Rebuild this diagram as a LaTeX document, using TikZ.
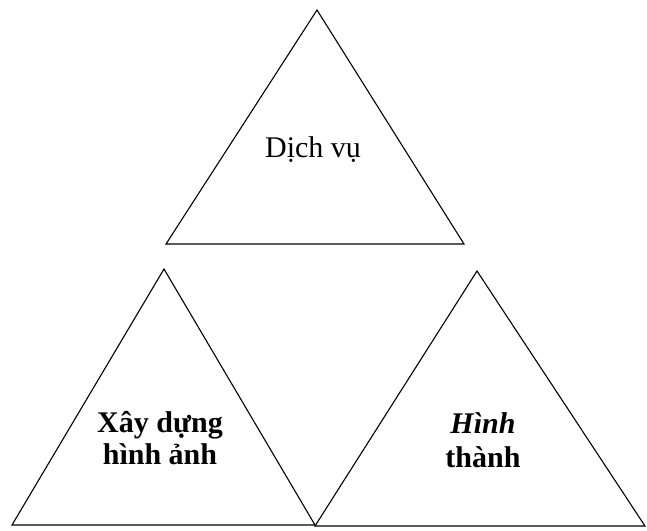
\documentclass[tikz,border=0pt]{standalone}
\usepackage{fontspec}
\setmainfont{Liberation Serif}
\usetikzlibrary{calc}
\tikzset{
  tri/.style={draw, line width=1.1pt, line join=miter},
  lbl/.style={align=center, font=\fontsize{30}{33}\selectfont, inner sep=0pt},
}

\begin{document}
\begin{tikzpicture}[x=1pt, y=-1pt]
  \useasboundingbox (0,0) rectangle (647,530);

  % ---- top triangle ----
  \coordinate (dvA) at (317,10);
  \coordinate (dvL) at (166,244);
  \coordinate (dvR) at (464,244);
  \draw[tri] (dvA) -- (dvL) -- (dvR) -- cycle;
  \node[lbl] (dv) at (313,150) {Dịch vụ};

  % ---- bottom left triangle ----
  \coordinate (xdA) at (164,269);
  \coordinate (xdL) at (12,525);
  \coordinate (xdR) at (315,525);
  \draw[tri] (xdA) -- (xdL) -- (xdR) -- cycle;
  \node[lbl, font=\fontsize{30}{32}\selectfont\bfseries] (xd) at (160,438)
       {Xây dựng\\hình ảnh};

  % ---- bottom right triangle ----
  \coordinate (htA) at (477,271);
  \coordinate (htL) at (315,526);
  \coordinate (htR) at (645,526);
  \draw[tri] (htA) -- (htL) -- (htR) -- cycle;
  \node[lbl, font=\fontsize{30}{34}\selectfont\bfseries] (ht) at (483,440)
       {\textit{Hình}\\thành};
\end{tikzpicture}
\end{document}
